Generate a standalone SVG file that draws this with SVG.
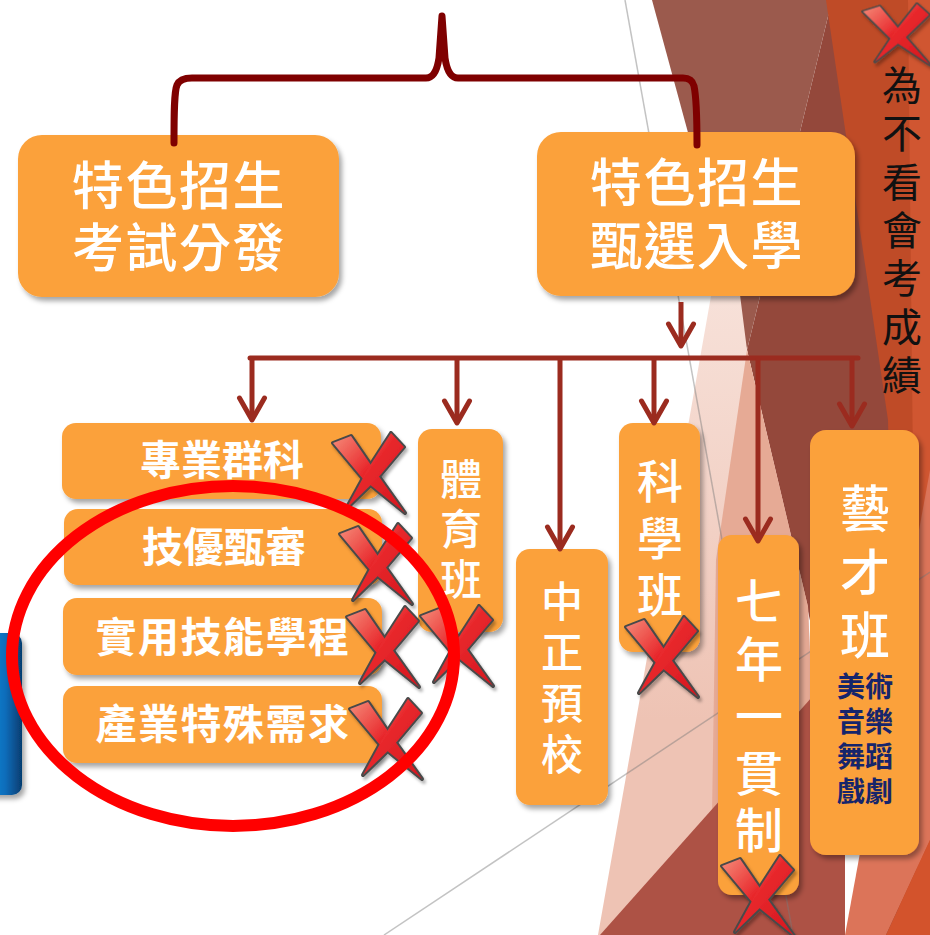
<svg xmlns="http://www.w3.org/2000/svg" width="930" height="935" viewBox="0 0 930 935">
<defs>
<style>
.box{fill:#FBA13A;filter:url(#sh)}
.t{font-family:"Noto Sans CJK TC","Noto Sans CJK SC",sans-serif;fill:#fff;text-anchor:middle}
.tb{font-weight:500;font-size:52px}
.tl{font-weight:700;font-size:41px}
.tv{font-family:"Noto Sans CJK TC","Noto Sans CJK SC",sans-serif;fill:#fff;font-weight:500;writing-mode:vertical-rl;text-anchor:start}
.tn{font-family:"Noto Sans CJK TC","Noto Sans CJK SC",sans-serif;fill:#16256B;font-weight:700;font-size:28px;text-anchor:middle}
.tk{font-family:"Noto Sans CJK TC","Noto Sans CJK SC",sans-serif;fill:#111;font-weight:400;font-size:40px;writing-mode:vertical-rl;text-anchor:start}
.conn{stroke:#9B2B1F;stroke-width:5;fill:none}
.gl{stroke:#7A7A7A;stroke-opacity:0.45;stroke-width:1.5;fill:none}
</style>
<filter id="sh" x="-20%" y="-20%" width="140%" height="140%"><feDropShadow dx="3" dy="4" stdDeviation="2.5" flood-color="#000" flood-opacity="0.35"/></filter>
<filter id="xs" x="-20%" y="-20%" width="140%" height="140%"><feDropShadow dx="2" dy="3" stdDeviation="1.5" flood-color="#000" flood-opacity="0.3"/></filter>
<linearGradient id="xg" x1="0" y1="0" x2="1" y2="1"><stop offset="0" stop-color="#F58A78"/><stop offset="0.45" stop-color="#E8282C"/><stop offset="1" stop-color="#D4161E"/></linearGradient>
<linearGradient id="pk" gradientUnits="userSpaceOnUse" x1="0" y1="290" x2="0" y2="720"><stop offset="0" stop-color="#F7E1D9"/><stop offset="1" stop-color="#EEC3B4"/></linearGradient>
<linearGradient id="bl" x1="0" y1="0" x2="1" y2="0"><stop offset="0" stop-color="#2592E0"/><stop offset="0.6" stop-color="#0B6DBB"/><stop offset="1" stop-color="#063D70"/></linearGradient>
<g id="xm">
<g fill="none" stroke="#4A4A4A" stroke-width="4" stroke-linejoin="round">
<polygon points="0,10 18,3 42,38 72,80 30,46"/>
<polygon points="58,0 71,14 44,46 13,76 36,34"/>
</g>
<g fill="url(#xg)">
<polygon points="0,10 18,3 42,38 72,80 30,46"/>
<polygon points="58,0 71,14 44,46 13,76 36,34"/>
</g>
</g>
<marker id="chev" markerUnits="userSpaceOnUse" viewBox="-30 -17 34 34" markerWidth="34" markerHeight="34" refX="0" refY="0" orient="auto"><path d="M-22,-12.5 L0,0 L-22,12.5" fill="none" stroke="#9B2B1F" stroke-width="5" stroke-linecap="round" stroke-linejoin="round"/></marker>
</defs>

<g id="background">
<rect width="930" height="935" fill="#FFFFFF"/>
<polygon points="832,0 930,0 930,935 880,935 807,607 747,350" fill="#94483B"/>
<polygon points="652,0 832,0 747,350" fill="#9B5A4D"/>
<polygon points="728,200 747,350 808,607 812,700 603,935 598,935" fill="url(#pk)"/>
<polygon points="747,350 808,607 812,700 712,815 716,560" fill="#E6AA95"/>
<polygon points="600,935 812,697 845,660 845,935" fill="#AD5245"/>
<polygon points="826,0 930,0 930,935 900,935 888,420" fill="#BF4B27"/>
<polygon points="908,0 930,0 930,935 918,935" fill="#D05631"/>
<polygon points="930,470 930,840 886,935 845,935" fill="#DC7459"/>
<polygon points="930,840 930,935 886,935" fill="#D3532C"/>
<line class="gl" x1="625" y1="0" x2="793" y2="935"/>
<line class="gl" x1="384" y1="935" x2="930" y2="572"/>
<rect x="-20" y="633" width="42" height="162" rx="10" fill="url(#bl)" filter="url(#sh)"/>
</g>

<g id="node-exam">
<rect class="box" x="18" y="135" width="321" height="162" rx="24"/>
<text class="t tb" x="179" y="205" letter-spacing="1.5">特色招生</text>
<text class="t tb" x="179" y="267" letter-spacing="1.5">考試分發</text>
</g>
<g id="node-select">
<rect class="box" x="537" y="132" width="318" height="164" rx="24"/>
<text class="t tb" x="697" y="202" letter-spacing="1.5">特色招生</text>
<text class="t tb" x="697" y="265" letter-spacing="1.5">甄選入學</text>
</g>

<g id="node-zhuanye">
<rect class="box" x="62" y="423" width="319" height="76" rx="14"/>
<text class="t tl" x="222" y="475">專業群科</text>
</g>
<g id="node-jiyou">
<rect class="box" x="64" y="509" width="318" height="76" rx="14"/>
<text class="t tl" x="224" y="562">技優甄審</text>
</g>
<g id="node-shiyong">
<rect class="box" x="63" y="598" width="319" height="77" rx="14"/>
<text class="t tl" x="223" y="652" letter-spacing="1.5">實用技能學程</text>
</g>
<g id="node-chanye">
<rect class="box" x="63" y="686" width="319" height="77" rx="14"/>
<text class="t tl" x="223" y="739" letter-spacing="1.5">產業特殊需求</text>
</g>

<g id="node-tiyu">
<rect class="box" x="418" y="429" width="85" height="203" rx="14"/>
<text class="tv" font-size="42" letter-spacing="8" x="461" y="458">體育班</text>
</g>
<g id="node-zhongzheng">
<rect class="box" x="516" y="549" width="92" height="256" rx="14"/>
<text class="tv" font-size="42" letter-spacing="9" x="562" y="580">中正預校</text>
</g>
<g id="node-kexue">
<rect class="box" x="619" y="423" width="81" height="229" rx="14"/>
<text class="tv" font-size="46" letter-spacing="11" x="660" y="457.5">科學班</text>
</g>
<g id="node-qinian">
<rect class="box" x="718" y="535" width="81" height="360" rx="14"/>
<text class="tv" font-size="48" letter-spacing="9.3" x="759" y="577">七年一貫制</text>
</g>
<g id="node-yicai">
<rect class="box" x="810" y="430" width="109" height="425" rx="16"/>
<text class="tv" font-size="50" letter-spacing="13.5" x="865" y="483">藝才班</text>
<text class="tn" x="865" y="697">美術</text>
<text class="tn" x="865" y="732">音樂</text>
<text class="tn" x="865" y="767">舞蹈</text>
<text class="tn" x="865" y="802">戲劇</text>
</g>

<g id="note">
<text class="tk" letter-spacing="8.3" x="902" y="65">為不看會考成績</text>
</g>

<g id="connectors">
<path d="M174,143 C174,115 174,92 177,85 Q180,78 192,78 L426,78 Q436,78 439,58 L442,16 L445,58 Q448,78 458,78 L683,78 Q692,78 694,86 C697,100 697,120 697,145" fill="none" stroke="#7F0000" stroke-width="7" stroke-linecap="round" stroke-linejoin="round"/>
<line class="conn" x1="681" y1="302" x2="681" y2="346" marker-end="url(#chev)"/>
<line class="conn" x1="250" y1="358" x2="858" y2="358" stroke-linecap="round"/>
<line class="conn" x1="252" y1="358" x2="252" y2="420" marker-end="url(#chev)"/>
<line class="conn" x1="457" y1="358" x2="457" y2="423" marker-end="url(#chev)"/>
<line class="conn" x1="560" y1="358" x2="560" y2="549" marker-end="url(#chev)"/>
<line class="conn" x1="654" y1="358" x2="654" y2="423" marker-end="url(#chev)"/>
<line class="conn" x1="758" y1="358" x2="758" y2="541" marker-end="url(#chev)"/>
<line class="conn" x1="852" y1="358" x2="852" y2="426" marker-end="url(#chev)"/>
</g>

<g id="crosses" filter="url(#xs)">
<use href="#xm" transform="translate(333,433)"/>
<use href="#xm" transform="translate(340,524)"/>
<use href="#xm" transform="translate(347,607)"/>
<use href="#xm" transform="translate(421,606)"/>
<use href="#xm" transform="translate(350,699)"/>
<use href="#xm" transform="translate(626,617)"/>
<use href="#xm" transform="translate(722,856)"/>
<use href="#xm" transform="translate(863,4) scale(0.93,0.76)"/>
</g>

<g id="highlight">
<ellipse cx="233" cy="656" rx="221" ry="170" fill="none" stroke="#FF0000" stroke-width="12"/>
</g>
</svg>
